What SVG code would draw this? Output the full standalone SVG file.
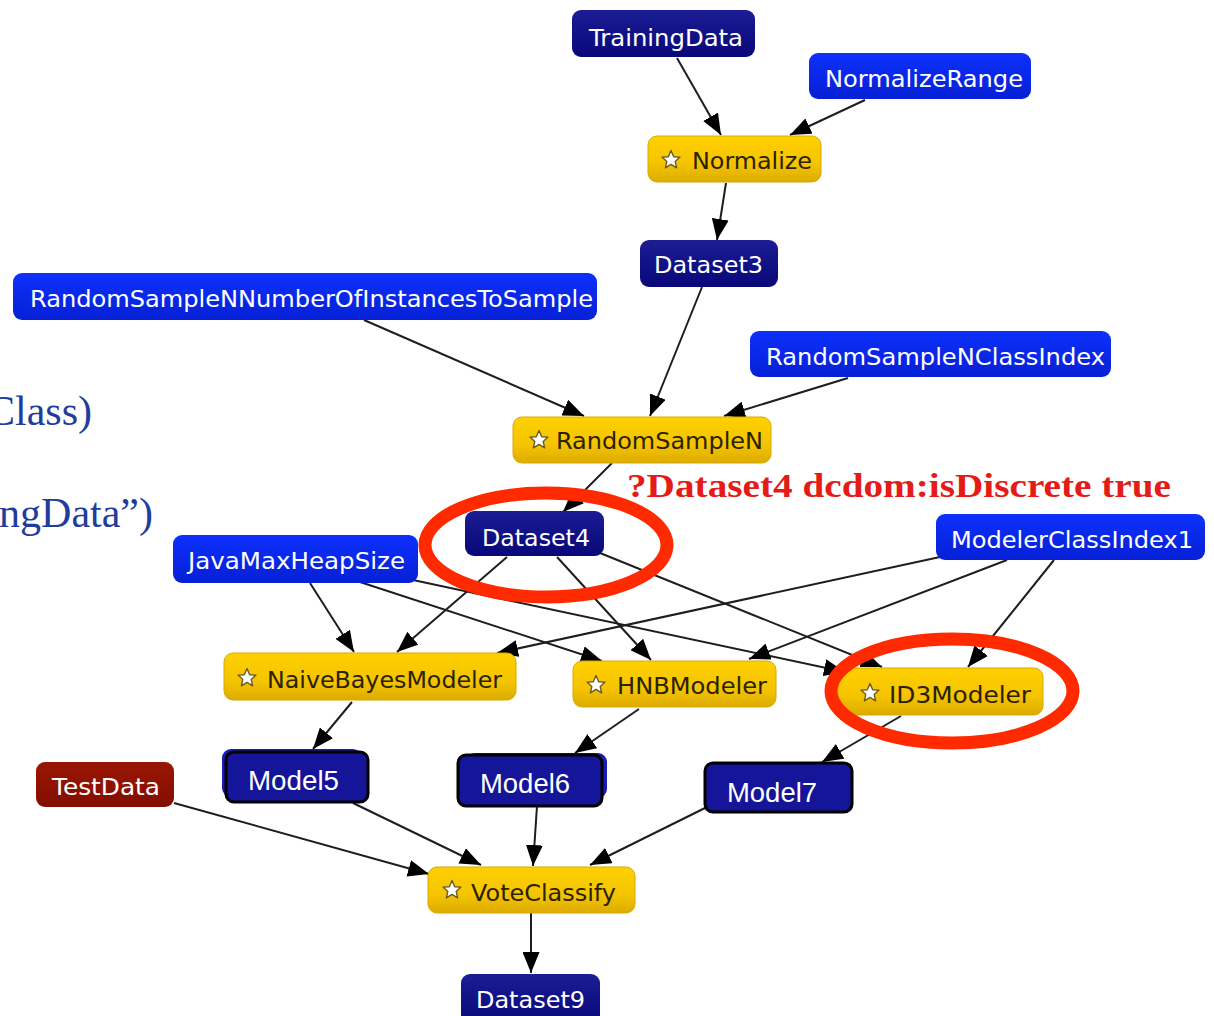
<svg xmlns="http://www.w3.org/2000/svg" width="1214" height="1016" viewBox="0 0 1214 1016">
  <style>
    .navy rect { fill: url(#gNavy); }
    .blue rect { fill: url(#gBlue); }
    .task rect { fill: url(#gGold); stroke: #d9a900; stroke-width: 1; }
    .test rect { fill: url(#gRed); }
    .lbl { font-family: "DejaVu Sans", "Liberation Sans", sans-serif; font-size: 23px; fill: #ffffff; }
    .task .lbl { fill: #2a2200; }
    .model rect.box { fill: #15159a; stroke: #000000; stroke-width: 3; }
    .model rect.under { fill: #1c1cb4; }
    .mlbl { font-family: "Liberation Sans", Arial, sans-serif; font-size: 27px; fill: #ffffff; }
    .edge { stroke: #1e1e1e; stroke-width: 2; fill: none; marker-end: url(#arrow); }
    .ring { fill: none; stroke: #ff2a00; stroke-width: 13; }
    .note { font-family: "Liberation Serif", "Times New Roman", serif; font-size: 42px; fill: #1f3d9c; }
    .cond { font-family: "Liberation Serif", "Times New Roman", serif; font-size: 34px; font-weight: bold; fill: #e41b17; }
  </style>
  <defs>
    <linearGradient id="gNavy" x1="0" y1="0" x2="0" y2="1">
      <stop offset="0" stop-color="#1c1c94"/>
      <stop offset="1" stop-color="#08087a"/>
    </linearGradient>
    <linearGradient id="gBlue" x1="0" y1="0" x2="0" y2="1">
      <stop offset="0" stop-color="#0d30fb"/>
      <stop offset="1" stop-color="#0620d6"/>
    </linearGradient>
    <linearGradient id="gGold" x1="0" y1="0" x2="0" y2="1">
      <stop offset="0" stop-color="#ffd000"/>
      <stop offset="0.6" stop-color="#f5c400"/>
      <stop offset="1" stop-color="#dcab00"/>
    </linearGradient>
    <linearGradient id="gRed" x1="0" y1="0" x2="0" y2="1">
      <stop offset="0" stop-color="#9a1604"/>
      <stop offset="1" stop-color="#820e00"/>
    </linearGradient>
    <marker id="arrow" markerUnits="userSpaceOnUse" markerWidth="21" markerHeight="17" viewBox="0 0 21 17" refX="21" refY="8.5" orient="auto">
      <path d="M0,0 L21,8.5 L0,17 Z" fill="#000000"/>
    </marker>
    <!-- five-point star badge shown on task nodes -->
    <path id="star" d="M0,-9.5 L2.7,-3.3 L9,-2.9 L4.2,1.4 L5.6,7.8 L0,4.4 L-5.6,7.8 L-4.2,1.4 L-9,-2.9 L-2.7,-3.3 Z" fill="#ffffff" stroke="#6a5a20" stroke-width="1.4" stroke-linejoin="round"/>
  </defs>

  <rect width="1214" height="1016" fill="#ffffff"/>

  <!-- connectors -->
  <g id="connectors">
    <line class="edge" x1="677" y1="58" x2="721" y2="135"/>
    <line class="edge" x1="865" y1="100" x2="790" y2="135"/>
    <line class="edge" x1="726" y1="183" x2="717" y2="240"/>
    <line class="edge" x1="702" y1="287" x2="650" y2="416"/>
    <line class="edge" x1="364" y1="320" x2="584" y2="416"/>
    <line class="edge" x1="848" y1="378" x2="724" y2="416"/>
    <line class="edge" x1="612" y1="463" x2="563" y2="512"/>
    <line class="edge" x1="507" y1="557" x2="397" y2="652"/>
    <line class="edge" x1="310" y1="583" x2="354" y2="652"/>
    <line class="edge" x1="360" y1="582" x2="602" y2="661"/>
    <line class="edge" x1="413" y1="580" x2="845" y2="672"/>
    <line class="edge" x1="557" y1="557" x2="651" y2="660"/>
    <line class="edge" x1="600" y1="553" x2="882" y2="667"/>
    <line class="edge" x1="940" y1="557" x2="497" y2="653"/>
    <line class="edge" x1="1007" y1="560" x2="749" y2="659"/>
    <line class="edge" x1="1054" y1="560" x2="968" y2="667"/>
    <line class="edge" x1="352" y1="702" x2="313" y2="749"/>
    <line class="edge" x1="639" y1="709" x2="575" y2="753"/>
    <line class="edge" x1="901" y1="716" x2="822" y2="762"/>
    <line class="edge" x1="174" y1="803" x2="429" y2="874"/>
    <line class="edge" x1="353" y1="803" x2="481" y2="865"/>
    <line class="edge" x1="537" y1="806" x2="533" y2="866"/>
    <line class="edge" x1="705" y1="808" x2="590" y2="865"/>
    <line class="edge" x1="531" y1="913" x2="531" y2="973"/>
  </g>

  <!-- workflow nodes -->
  <g id="TrainingData" class="navy">
    <rect x="572" y="10" width="183" height="47" rx="9"/>
    <text class="lbl" x="589" y="46" textLength="154" lengthAdjust="spacingAndGlyphs">TrainingData</text>
  </g>
  <g id="NormalizeRange" class="blue">
    <rect x="809" y="53" width="222" height="46" rx="9"/>
    <text class="lbl" x="825" y="87" textLength="198" lengthAdjust="spacingAndGlyphs">NormalizeRange</text>
  </g>
  <g id="Normalize" class="task">
    <rect x="648" y="136" width="173" height="46" rx="9"/>
    <use href="#star" x="671" y="160"/>
    <text class="lbl" x="692" y="169" textLength="120" lengthAdjust="spacingAndGlyphs">Normalize</text>
  </g>
  <g id="Dataset3" class="navy">
    <rect x="640" y="240" width="138" height="47" rx="9"/>
    <text class="lbl" x="654" y="273" textLength="109" lengthAdjust="spacingAndGlyphs">Dataset3</text>
  </g>
  <g id="RandomSampleNNumberOfInstancesToSample" class="blue">
    <rect x="13" y="273" width="584" height="47" rx="9"/>
    <text class="lbl" x="30" y="307" textLength="563" lengthAdjust="spacingAndGlyphs">RandomSampleNNumberOfInstancesToSample</text>
  </g>
  <g id="RandomSampleNClassIndex" class="blue">
    <rect x="750" y="331" width="361" height="46" rx="9"/>
    <text class="lbl" x="766" y="365" textLength="339" lengthAdjust="spacingAndGlyphs">RandomSampleNClassIndex</text>
  </g>
  <g id="RandomSampleN" class="task">
    <rect x="513" y="417" width="258" height="46" rx="9"/>
    <use href="#star" x="539" y="440"/>
    <text class="lbl" x="556" y="449" textLength="207" lengthAdjust="spacingAndGlyphs">RandomSampleN</text>
  </g>
  <g id="Dataset4" class="navy">
    <rect x="465" y="511" width="139" height="45" rx="9"/>
    <text class="lbl" x="482" y="546" textLength="108" lengthAdjust="spacingAndGlyphs">Dataset4</text>
  </g>
  <g id="ModelerClassIndex1" class="blue">
    <rect x="936" y="514" width="269" height="46" rx="9"/>
    <text class="lbl" x="951" y="548" textLength="242" lengthAdjust="spacingAndGlyphs">ModelerClassIndex1</text>
  </g>
  <g id="JavaMaxHeapSize" class="blue">
    <rect x="173" y="535" width="245" height="48" rx="9"/>
    <text class="lbl" x="188" y="569" textLength="217" lengthAdjust="spacingAndGlyphs">JavaMaxHeapSize</text>
  </g>
  <g id="NaiveBayesModeler" class="task">
    <rect x="224" y="653" width="292" height="47" rx="9"/>
    <use href="#star" x="247" y="678"/>
    <text class="lbl" x="267" y="688" textLength="235" lengthAdjust="spacingAndGlyphs">NaiveBayesModeler</text>
  </g>
  <g id="HNBModeler" class="task">
    <rect x="573" y="661" width="203" height="46" rx="9"/>
    <use href="#star" x="596" y="685"/>
    <text class="lbl" x="617" y="694" textLength="150" lengthAdjust="spacingAndGlyphs">HNBModeler</text>
  </g>
  <g id="ID3Modeler" class="task">
    <rect x="838" y="668" width="205" height="47" rx="9"/>
    <use href="#star" x="870" y="693"/>
    <text class="lbl" x="889" y="703" textLength="142" lengthAdjust="spacingAndGlyphs">ID3Modeler</text>
  </g>
  <g id="TestData" class="test">
    <rect x="36" y="762" width="138" height="45" rx="9"/>
    <text class="lbl" x="52" y="795" textLength="108" lengthAdjust="spacingAndGlyphs">TestData</text>
  </g>
  <g id="Model5" class="model">
    <rect class="under" x="222" y="749" width="140" height="48" rx="9"/>
    <rect class="box" x="226" y="752" width="142" height="50" rx="8"/>
    <text class="mlbl" x="248" y="790" textLength="91" lengthAdjust="spacingAndGlyphs">Model5</text>
  </g>
  <g id="Model6" class="model">
    <rect class="under" x="466" y="753" width="141" height="45" rx="9"/>
    <rect class="box" x="458" y="755" width="144" height="51" rx="8"/>
    <text class="mlbl" x="480" y="793" textLength="90" lengthAdjust="spacingAndGlyphs">Model6</text>
  </g>
  <g id="Model7" class="model">
    <rect class="box" x="705" y="763" width="147" height="49" rx="8"/>
    <text class="mlbl" x="727" y="802" textLength="90" lengthAdjust="spacingAndGlyphs">Model7</text>
  </g>
  <g id="VoteClassify" class="task">
    <rect x="428" y="867" width="207" height="46" rx="9"/>
    <use href="#star" x="452" y="890"/>
    <text class="lbl" x="471" y="901" textLength="145" lengthAdjust="spacingAndGlyphs">VoteClassify</text>
  </g>
  <g id="Dataset9" class="navy">
    <rect x="461" y="974" width="139" height="52" rx="9"/>
    <text class="lbl" x="476" y="1008" textLength="109" lengthAdjust="spacingAndGlyphs">Dataset9</text>
  </g>

  <!-- annotations -->
  <g id="annotations">
    <text class="note" x="92" y="425" text-anchor="end">Class)</text>
    <text class="note" x="153" y="527" text-anchor="end">ngData”)</text>
    <text class="cond" x="627" y="497" textLength="544" lengthAdjust="spacingAndGlyphs">?Dataset4 dcdom:isDiscrete true</text>
    <ellipse class="ring" cx="546" cy="545" rx="121" ry="52"/>
    <ellipse class="ring" cx="952" cy="691" rx="121" ry="52"/>
  </g>
</svg>
